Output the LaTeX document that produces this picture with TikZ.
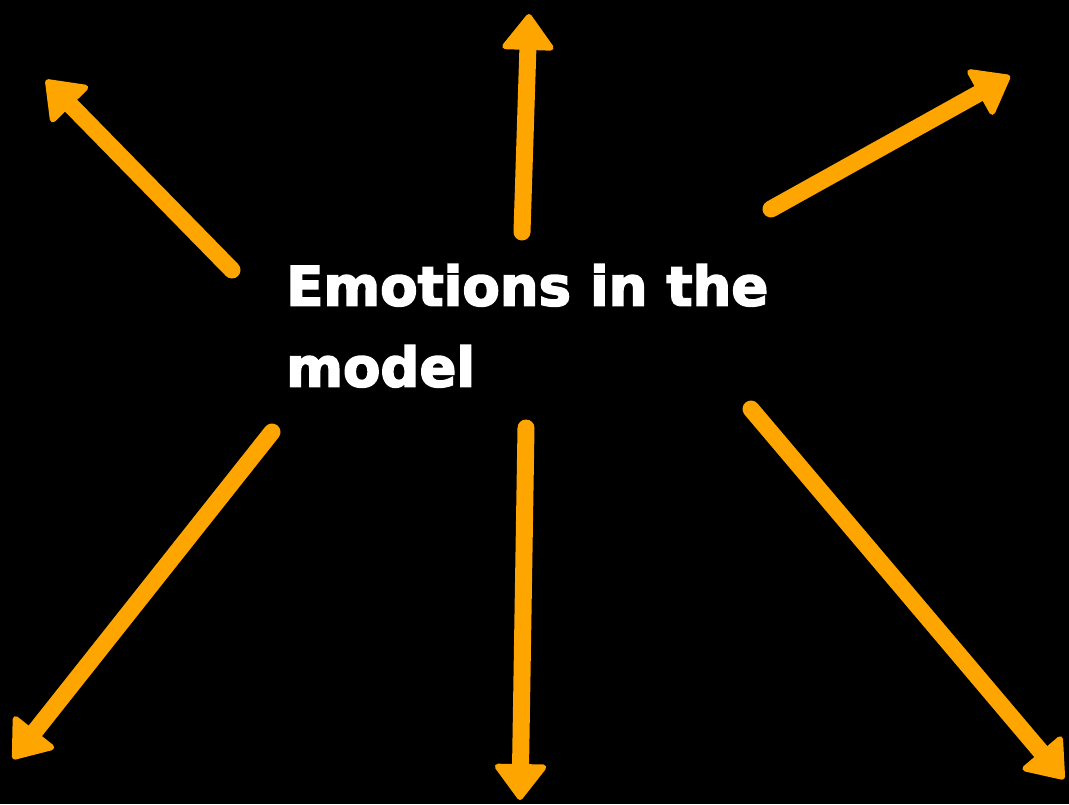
\documentclass[tikz,border=0pt]{standalone}
\usepackage{fontspec}
\newfontfamily\tf[FakeBold=3]{DejaVu Sans Bold}
\usetikzlibrary{arrows.meta}
\definecolor{arr}{HTML}{FFA500}
\begin{document}
\begin{tikzpicture}[x=1pt,y=-1pt,
  ray/.style={draw=arr, line width=17pt, line cap=round,
    -{Triangle[length=38pt,width=56pt,round,line width=6pt]}},
  title/.style={text=white, font=\tf\fontsize{54.5}{81}\selectfont, align=left, inner sep=0pt, anchor=north west}]
\fill[black] (0,0) rectangle (1069,804);
\useasboundingbox (0,0) rectangle (1069,804);
\node[title] (t) at (286,264) {Emotions in the\\model};
\coordinate (s1) at (232,270); \coordinate (e1) at (46,80);
\coordinate (s2) at (522,232); \coordinate (e2) at (529,14);
\coordinate (s3) at (771,209); \coordinate (e3) at (1010,76);
\coordinate (s4) at (272,432); \coordinate (e4) at (13,759);
\coordinate (s5) at (526,428); \coordinate (e5) at (520,800);
\coordinate (s6) at (751,409); \coordinate (e6) at (1064,779);
\foreach \i in {1,...,6} \draw[ray] (s\i) -- (e\i);
\end{tikzpicture}
\end{document}
